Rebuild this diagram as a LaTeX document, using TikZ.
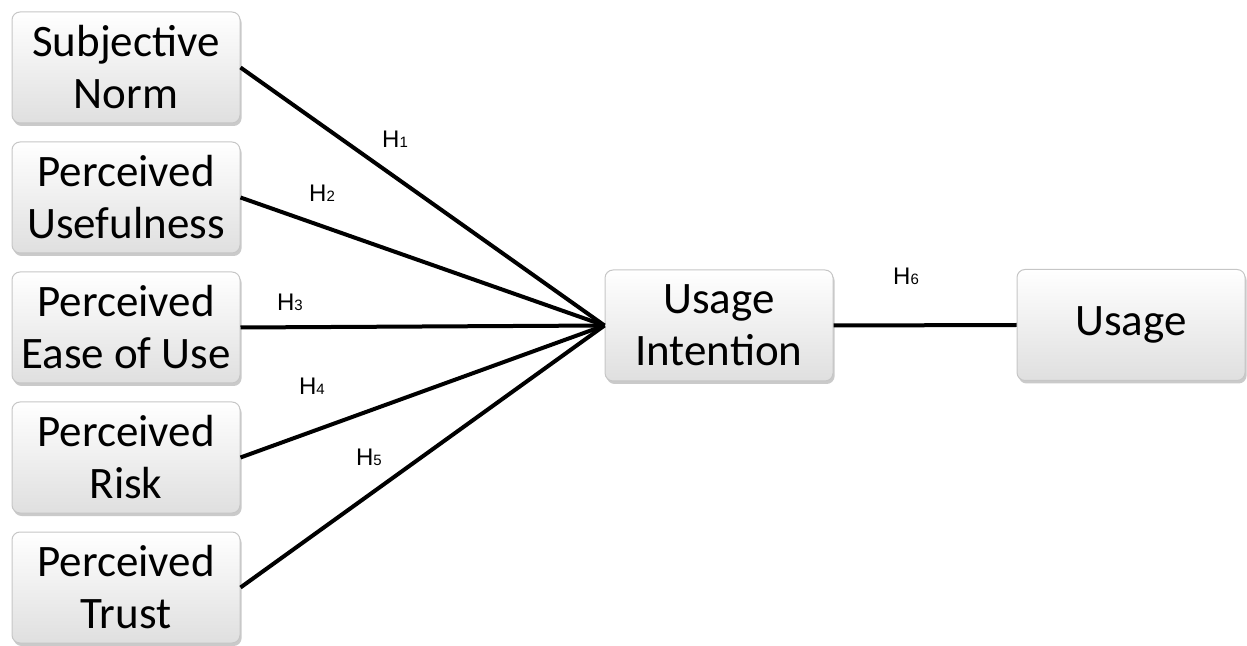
\documentclass[tikz,border=0pt]{standalone}
\usepackage{fontspec}
\setmainfont{Carlito}
\newfontfamily\labelfont{Liberation Sans}
\usetikzlibrary{shadows}
\newcommand\hlabel[1]{H{\fontsize{7.5}{8}\selectfont #1}}
\begin{document}
\begin{tikzpicture}[x=0.5pt,y=-0.5pt,
  factor/.style={draw=gray!45, line width=0.5pt, rounded corners=4pt,
    top color=white, bottom color=gray!25,
    minimum width=114pt, minimum height=55.5pt, inner sep=0pt, align=center,
    font=\fontsize{22.5}{26}\selectfont,
    drop shadow={shadow xshift=0.8pt, shadow yshift=-1.5pt, opacity=0.35, fill=black!60}},
  link/.style={line width=2pt, black},
  hyp/.style={font=\labelfont\fontsize{12}{12}\selectfont, inner sep=0pt}
]
\useasboundingbox (0,0) rectangle (1247,646);

% antecedent constructs
\node[factor] (sn) at (126,67.5)  {Subjective\\Norm};
\node[factor] (pu) at (126,197.5) {Perceived\\Usefulness};
\node[factor] (pe) at (126,327.5) {Perceived\\Ease of Use};
\node[factor] (pr) at (126,457.5) {Perceived\\Risk};
\node[factor] (pt) at (126,587.5) {Perceived\\Trust};

% outcome constructs
\node[factor] (ui) at (719,325.5) {Usage\\Intention};
\node[factor] (us) at (1131,325)  {Usage};

% hypothesised paths
\draw[link] (sn.east) -- (ui.west);
\draw[link] (pu.east) -- (ui.west);
\draw[link] (pe.east) -- (ui.west);
\draw[link] (pr.east) -- (ui.west);
\draw[link] (pt.east) -- (ui.west);
\draw[link] (ui.east) -- (us.west);

% hypothesis labels
\node[hyp] (h1) at (395,139) {\hlabel{1}};
\node[hyp] (h2) at (322,193) {\hlabel{2}};
\node[hyp] (h3) at (290,302) {\hlabel{3}};
\node[hyp] (h4) at (312,386) {\hlabel{4}};
\node[hyp] (h5) at (369,457) {\hlabel{5}};
\node[hyp] (h6) at (906,276) {\hlabel{6}};
\end{tikzpicture}
\end{document}
